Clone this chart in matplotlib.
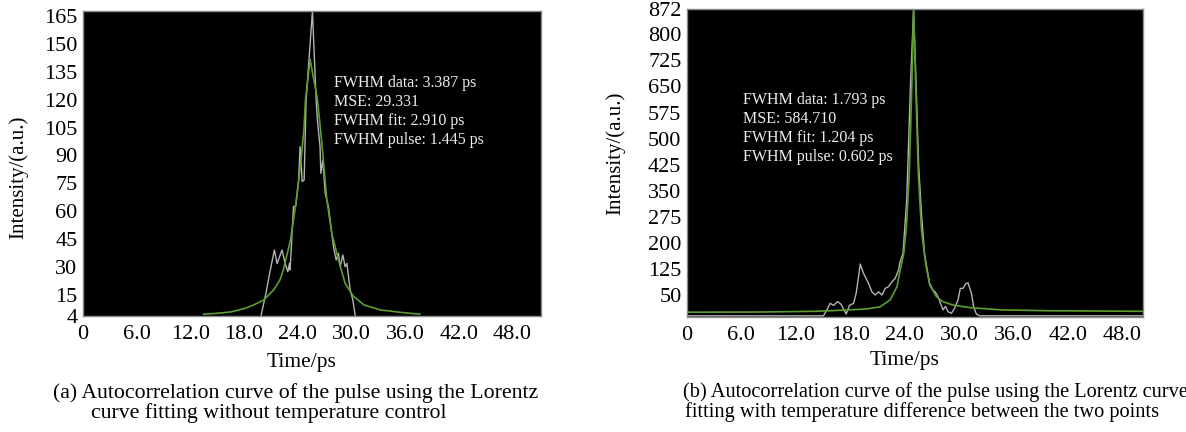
import matplotlib
matplotlib.use("Agg")
import matplotlib.pyplot as plt

plt.rcParams["font.family"] = ["Liberation Serif", "DejaVu Serif"]

W, H = 1186, 432

# (a) measured autocorrelation trace and Lorentz fit, no temperature control
a_t_data = [19.9, 20.45, 20.9, 21.4, 21.7, 22.25, 22.6, 22.9, 23.08, 23.15, 23.53, 23.79,
            24.09, 24.27, 24.5, 24.72, 24.94, 25.65, 26.06, 26.2, 26.5, 26.59, 26.81,
            27.07, 27.44, 27.63, 28.0, 28.3, 28.56, 28.75, 29.05, 29.3, 29.5, 29.87,
            30.17, 30.43]
a_v_data = [4, 16, 27.6, 39.3, 32, 39.3, 32, 27.6, 32.1, 28.5, 62.5, 63,
            76, 94.7, 76, 76.8, 119.8, 167.5, 119.8, 109, 94.7, 80.4, 87.6,
            69.7, 62.5, 55.4, 41, 33.9, 37.5, 30.3, 36.6, 30.3, 32.1, 17.8,
            12.4, 4]
a_t_fit = [13.5, 15.0, 16.5, 18.0, 19.0, 20.2, 21.3, 22.0, 22.4, 23.2, 23.75, 24.3,
           24.7, 24.87, 25.39, 26.21, 26.7, 27.26, 27.82, 28.56, 29.3, 30.2, 31.4,
           33.3, 34.0, 35.5, 37.66]
a_v_fit = [4.8, 5.3, 6.0, 7.8, 9.6, 12.4, 17.8, 23, 28.6, 44.7, 62.6, 84,
           104, 120, 141.5, 120, 96.7, 66, 48, 34, 21.4, 14.6, 9.8,
           7, 6.7, 5.8, 4.8]
a_yticks = [4, 15, 30, 45, 60, 75, 90, 105, 120, 135, 150, 165]
a_notes = ["FWHM data: 3.387 ps", "MSE: 29.331", "FWHM fit: 2.910 ps", "FWHM pulse: 1.445 ps"]
a_caption = ["(a) Autocorrelation curve of the pulse using the Lorentz",
             "curve fitting without temperature control"]

# (b) with temperature difference between the two points
b_t_data = [0, 15.04, 15.42, 15.78, 16.15, 16.59, 16.96, 17.55, 17.91, 18.36, 18.65, 19.1,
            19.46, 19.83, 20.0, 20.39, 20.75, 21.12, 21.49, 21.85, 22.22, 22.59, 22.96,
            23.32, 23.45, 23.81, 24.22, 24.64, 24.98, 25.25, 25.54, 25.87, 26.2, 26.74,
            27.12, 27.34, 27.67, 28.22, 28.5, 28.77, 29.14, 29.5, 29.88, 30.13, 30.43,
            30.72, 30.98, 31.35, 31.6, 31.9, 32.26, 50.3]
b_v_data = [-10, -10, 7, 26, 20, 31, 24, -5, 20, 26, 55, 139,
            112, 93, 84, 59, 50, 59, 50, 69, 74, 88, 98,
            122, 142, 170, 323, 660, 872, 660, 420, 276, 165, 84,
            64, 59, 45, 7, 17, 2, -3, 12, 36, 69, 69,
            82, 85, 55, 16, -5, -10, -10]
b_t_fit = [0, 8, 14, 16.1, 19.8, 21.3, 22.4, 23.15, 23.5, 23.9, 24.2, 24.5, 24.75, 24.98,
           25.25, 25.5, 25.85, 26.3, 26.75, 27.5, 28.2, 29.3, 31.2, 34.8, 40.3, 50.3]
b_v_fit = [0.5, 1, 3, 5, 9.7, 16, 36, 74, 122, 170, 250, 400, 620, 870,
           620, 400, 235, 141, 79, 45, 31, 21, 13.5, 7, 4.5, 3]
b_yticks = [50, 125, 200, 275, 350, 425, 500, 575, 650, 725, 800, 872]
b_notes = ["FWHM data: 1.793 ps", "MSE: 584.710", "FWHM fit: 1.204 ps", "FWHM pulse: 0.602 ps"]
b_caption = ["(b) Autocorrelation curve of the pulse using the Lorentz curve",
             "fitting with temperature difference between the two points"]

xticks = [0, 6, 12, 18, 24, 30, 36, 42, 48]
xlabels = ["0", "6.0", "12.0", "18.0", "24.0", "30.0", "36.0", "42.0", "48.0"]

DATA_COLOR = "#b4b4b4"
FIT_COLOR = "#5c9e2e"
TEXT_COLOR = "#ececec"


def px(x, y):
    return x / W, 1 - y / H


def panel(rect, t_data, v_data, t_fit, v_fit, xmax, ylim, yticks):
    ax = fig.add_axes(rect)
    ax.set_facecolor("black")
    ax.plot(t_data, v_data, color=DATA_COLOR, lw=1.0)
    ax.plot(t_fit, v_fit, color=FIT_COLOR, lw=1.2)
    ax.set_xlim(0, xmax)
    ax.set_ylim(*ylim)
    ax.set_xticks(xticks)
    ax.set_xticklabels(xlabels)
    ax.set_yticks(yticks)
    ax.tick_params(length=0, labelsize=16)
    ax.tick_params(axis="x", pad=7)
    ax.tick_params(axis="y", pad=4)
    for s in ax.spines.values():
        s.set_color("#8a8a8a")
        s.set_linewidth(1.0)
    return ax


fig = plt.figure(figsize=(W / 100, H / 100), dpi=100)

ax_a = panel([83 / W, 1 - 315.7 / H, (541 - 83) / W, (315.7 - 10.7) / H],
             a_t_data, a_v_data, a_t_fit, a_v_fit, 51.2, (4, 167.7), a_yticks)
ax_b = panel([687 / W, 1 - 316.7 / H, (1143.3 - 687) / W, (316.7 - 9.3) / H],
             b_t_data, b_v_data, b_t_fit, b_v_fit, 50.3, (-12.5, 872), b_yticks)

# fit results
for i, line in enumerate(a_notes):
    fig.text(*px(334, 83.3 + 19 * i), line, color=TEXT_COLOR, fontsize=11.5, va="center")
for i, line in enumerate(b_notes):
    fig.text(*px(743, 100 + 18.9 * i), line, color=TEXT_COLOR, fontsize=11.5, va="center")

# axis labels
fig.text(*px(18, 177), "Intensity/(a.u.)", fontsize=15, rotation=90, ha="center", va="center")
fig.text(*px(615, 153), "Intensity/(a.u.)", fontsize=15, rotation=90, ha="center", va="center")
fig.text(*px(302, 362), "Time/ps", fontsize=15.5, ha="center", va="center")
fig.text(*px(905, 360), "Time/ps", fontsize=15.5, ha="center", va="center")

# captions
fig.text(*px(53, 393), a_caption[0], fontsize=15.7, va="center")
fig.text(*px(91, 413), a_caption[1], fontsize=15.7, va="center")
fig.text(*px(683, 392), b_caption[0], fontsize=14.7, va="center")
fig.text(*px(685, 412), b_caption[1], fontsize=14.7, va="center")

fig.savefig("out.png", dpi=100, facecolor="white")
